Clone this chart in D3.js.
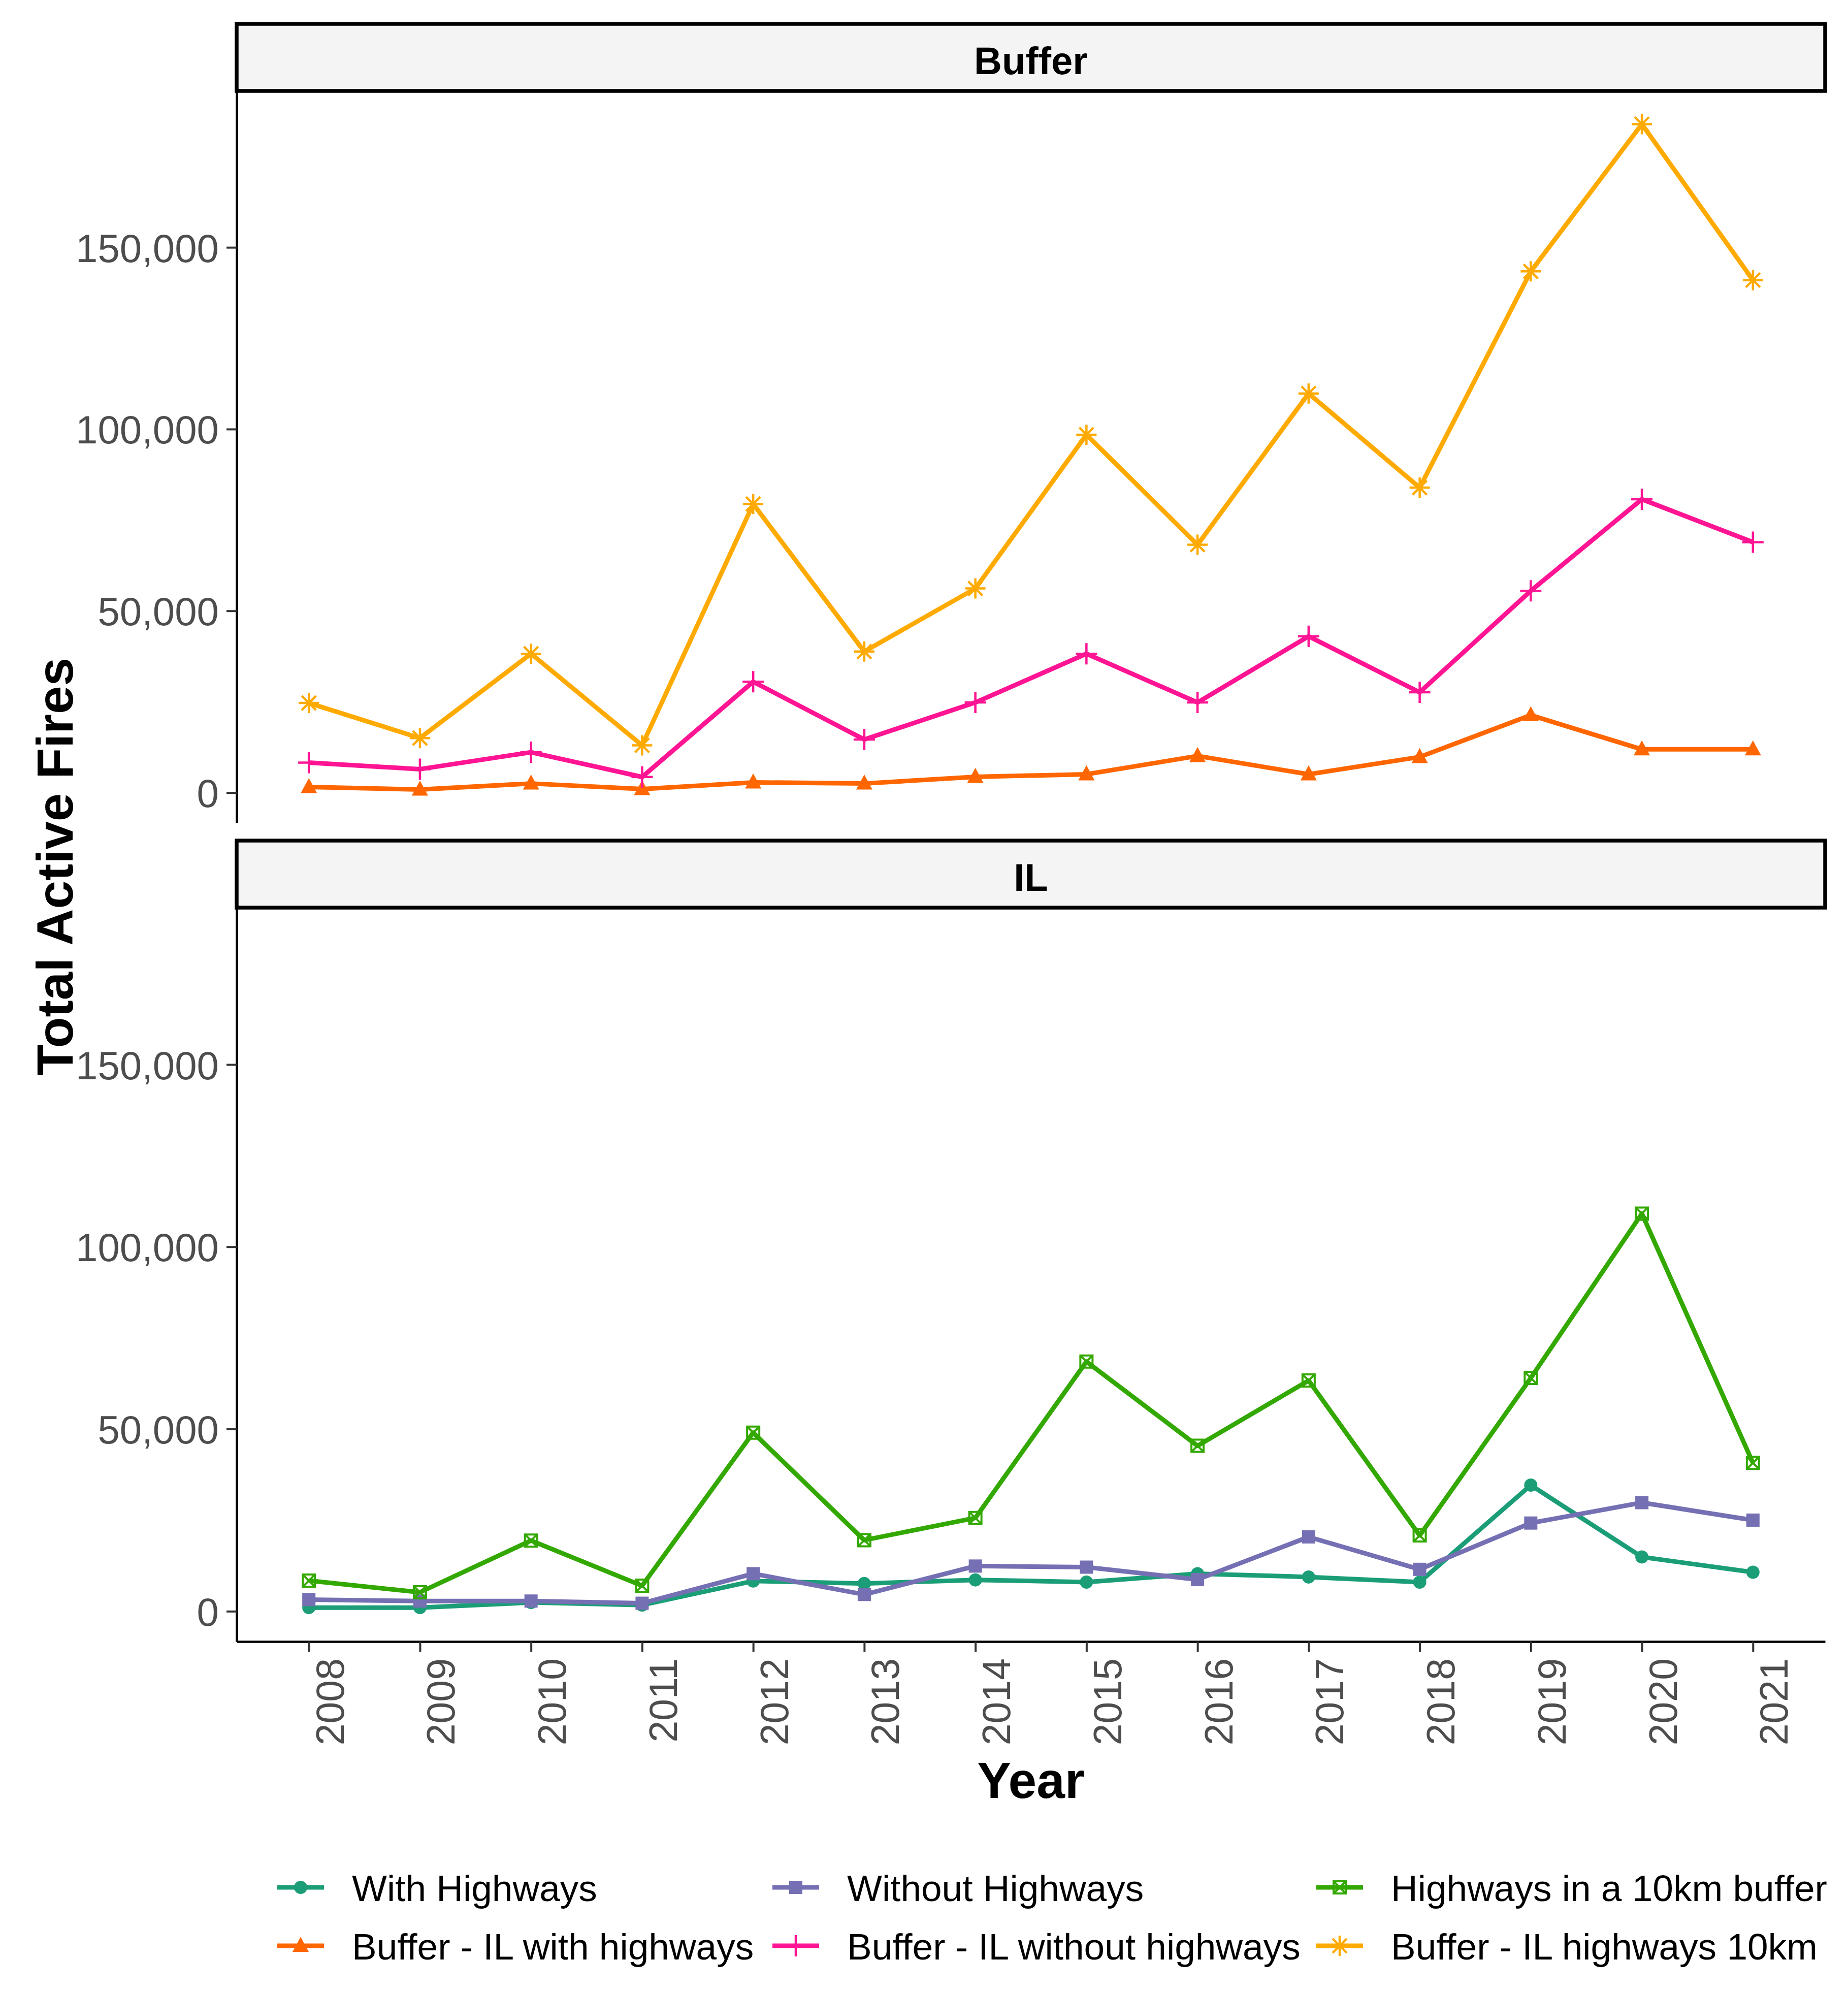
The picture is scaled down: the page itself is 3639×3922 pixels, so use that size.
<!DOCTYPE html>
<html>
<head>
<meta charset="utf-8">
<script src="https://cdn.jsdelivr.net/npm/d3@7"></script>
<style>
  body { margin: 0; background: #fff; }
  text { font-family: "Liberation Sans", Arial, sans-serif; }
</style>
</head>
<body>
<svg id="chart"></svg>
<script>
// data
const years = [2008, 2009, 2010, 2011, 2012, 2013, 2014, 2015, 2016, 2017, 2018, 2019, 2020, 2021];
const panels = ["Buffer", "IL"];
const yTicks = [0, 50000, 100000, 150000];

const withHighways       = [1000, 1000, 2400, 1700, 8300, 7600, 8600, 8000, 10300, 9400, 8000, 34600, 14900, 10700];
const withoutHighways    = [3200, 2800, 2800, 2200, 10300, 4600, 12400, 12100, 8700, 20400, 11500, 24200, 29800, 25000];
const highways10km       = [8400, 5200, 19400, 7000, 49000, 19500, 25600, 68500, 45400, 63300, 20800, 64000, 109100, 40700];
const bufferWith         = [1540, 840, 2500, 980, 2800, 2500, 4340, 5040, 10080, 5040, 9800, 21300, 11900, 11900];
const bufferWithout      = [8260, 6440, 11100, 4300, 30500, 14600, 24800, 38200, 24800, 43000, 27600, 55500, 80700, 68900];
const bufferHighways10km = [24650, 15000, 38200, 13000, 79400, 38800, 56160, 98460, 68200, 109800, 83900, 143400, 183900, 141000];

const series = [
  { name: "With Highways",               panel: "IL",     values: withHighways,       color: "#1B9E77", shape: "circle" },
  { name: "Without Highways",            panel: "IL",     values: withoutHighways,    color: "#7570B3", shape: "square" },
  { name: "Highways in a 10km buffer",   panel: "IL",     values: highways10km,       color: "#33A800", shape: "squarecross" },
  { name: "Buffer - IL with highways",   panel: "Buffer", values: bufferWith,         color: "#FF6600", shape: "triangle" },
  { name: "Buffer - IL without highways",panel: "Buffer", values: bufferWithout,      color: "#FF1493", shape: "plus" },
  { name: "Buffer - IL highways 10km",   panel: "Buffer", values: bufferHighways10km, color: "#FFAA00", shape: "asterisk" }
];

const W = 3639, H = 3922;
const svg = d3.select("#chart").attr("width", W).attr("height", H);

const left = 466, right = 3594;
const stripH = 132;
const panelBoxes = [
  { top: 47,   bottom: 1620 },
  { top: 1655, bottom: 3232 }
];

const x = d3.scaleLinear()
  .domain([years[0] - 0.65, years[years.length - 1] + 0.65])
  .range([left, right]);

const allVals = series.flatMap(s => s.values);
const vMin = d3.min(allVals), vMax = d3.max(allVals);
const pad = (vMax - vMin) * 0.05;

// marker shapes, ggplot-like
function marker(g, shape, color) {
  const r = 13;
  if (shape === "circle") {
    g.append("circle").attr("r", r).attr("fill", color);
  } else if (shape === "square") {
    g.append("rect").attr("x", -r).attr("y", -r).attr("width", 2 * r).attr("height", 2 * r).attr("fill", color);
  } else if (shape === "triangle") {
    const s = 16;
    g.append("path").attr("d", `M0,${-s * 1.1}L${s},${s * 0.75}L${-s},${s * 0.75}Z`).attr("fill", color);
  } else if (shape === "plus") {
    g.append("path").attr("d", "M-21,0H21M0,-21V21").attr("stroke", color).attr("stroke-width", 4.5).attr("fill", "none");
  } else if (shape === "asterisk") {
    const a = 20, d = 14;
    g.append("path").attr("d", `M-${a},0H${a}M0,-${a}V${a}M-${d},-${d}L${d},${d}M-${d},${d}L${d},-${d}`)
      .attr("stroke", color).attr("stroke-width", 4.5).attr("fill", "none");
  } else if (shape === "squarecross") {
    const s = 12;
    g.append("path").attr("d", `M-${s},-${s}H${s}V${s}H-${s}ZM-${s},-${s}L${s},${s}M-${s},${s}L${s},-${s}`)
      .attr("stroke", color).attr("stroke-width", 4).attr("fill", "none");
  }
}

panels.forEach((p, i) => {
  const box = panelBoxes[i];
  const plotTop = box.top + stripH;
  const y = d3.scaleLinear().domain([vMin - pad, vMax + pad]).range([box.bottom, plotTop]);

  // strip
  svg.append("rect")
    .attr("x", left).attr("y", box.top)
    .attr("width", right - left).attr("height", stripH)
    .attr("fill", "#F4F4F4").attr("stroke", "#000").attr("stroke-width", 7.5);
  svg.append("text")
    .attr("x", (left + right) / 2).attr("y", box.top + stripH / 2 + 33)
    .attr("text-anchor", "middle")
    .style("font-size", "76px").style("font-weight", "bold")
    .text(p);

  // y axis
  const ya = svg.append("g")
    .attr("transform", `translate(${left},0)`)
    .call(d3.axisLeft(y).tickValues(yTicks).tickSize(20).tickSizeOuter(0).tickFormat(d3.format(",")));
  ya.select(".domain").attr("stroke", "#000").attr("stroke-width", 4.5);
  ya.selectAll(".tick line").attr("stroke", "#333").attr("stroke-width", 4);
  ya.selectAll(".tick text")
    .attr("x", -35).attr("dy", "0.36em")
    .attr("fill", "#4D4D4D")
    .style("font-size", "78px").style("font-family", "Liberation Sans, Arial, sans-serif");

  // x axis only on the bottom panel
  if (i === panels.length - 1) {
    const xa = svg.append("g")
      .attr("transform", `translate(0,${box.bottom})`)
      .call(d3.axisBottom(x).tickValues(years).tickSize(20).tickSizeOuter(0).tickFormat(d3.format("d")));
    xa.select(".domain").attr("stroke", "#000").attr("stroke-width", 4.5);
    xa.selectAll(".tick line").attr("stroke", "#333").attr("stroke-width", 4);
    xa.selectAll(".tick text")
      .attr("transform", "rotate(-90)")
      .attr("x", -33).attr("y", 68).attr("dy", 0)
      .attr("text-anchor", "end")
      .attr("fill", "#4D4D4D")
      .style("font-size", "77px").style("font-family", "Liberation Sans, Arial, sans-serif");
  }

  const line = d3.line().x((d, j) => x(years[j])).y(d => y(d));
  const ps = series.filter(s => s.panel === p);

  ps.forEach(s => {
    svg.append("path")
      .datum(s.values)
      .attr("d", line)
      .attr("fill", "none")
      .attr("stroke", s.color)
      .attr("stroke-width", 9)
      .attr("stroke-linejoin", "round");
  });
  ps.forEach(s => {
    s.values.forEach((v, j) => {
      const g = svg.append("g").attr("transform", `translate(${x(years[j])},${y(v)})`);
      marker(g, s.shape, s.color);
    });
  });
});

// axis titles
svg.append("text")
  .attr("x", (left + right) / 2).attr("y", 3540)
  .attr("text-anchor", "middle")
  .style("font-size", "100px").style("font-weight", "bold")
  .text("Year");

svg.append("text")
  .attr("transform", "translate(143,1706) rotate(-90)")
  .attr("text-anchor", "middle")
  .style("font-size", "100px").style("font-weight", "bold")
  .text("Total Active Fires");

// legend: 3 columns x 2 rows, filled by row as in the reference
const legendCols = [546, 1521, 2592];
const legendRows = [3716, 3831];
const legendOrder = [
  "With Highways", "Without Highways", "Highways in a 10km buffer",
  "Buffer - IL with highways", "Buffer - IL without highways", "Buffer - IL highways 10km"
];
legendOrder.forEach((name, k) => {
  const s = series.find(d => d.name === name);
  const cx = legendCols[k % 3], cy = legendRows[Math.floor(k / 3)];
  const g = svg.append("g").attr("transform", `translate(${cx},${cy})`);
  g.append("line").attr("x1", 0).attr("x2", 92).attr("y1", 0).attr("y2", 0)
    .attr("stroke", s.color).attr("stroke-width", 9);
  marker(g.append("g").attr("transform", "translate(46,0)"), s.shape, s.color);
  g.append("text")
    .attr("x", 147).attr("y", 27)
    .style("font-size", "73px")
    .text(name);
});
</script>
</body>
</html>
